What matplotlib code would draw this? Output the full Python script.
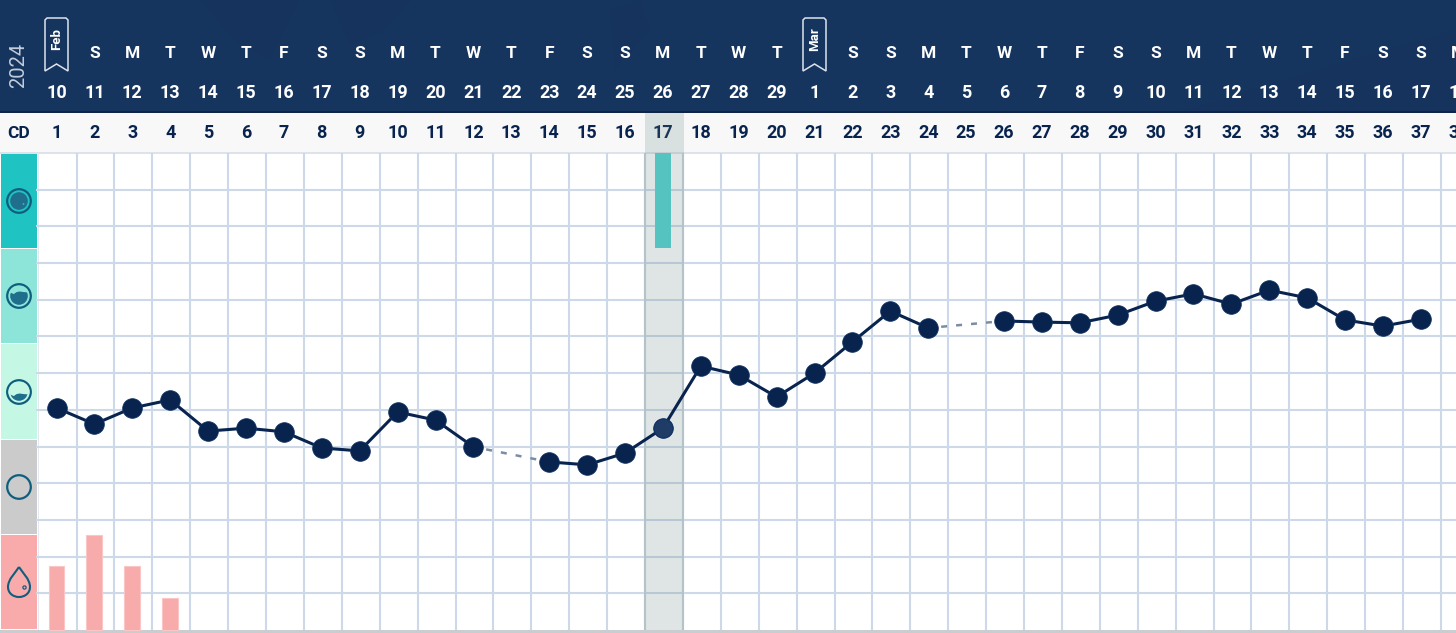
#!/usr/bin/env python3
"""Cycle chart: temperature line with fluid and bleeding rows, calendar header."""
import matplotlib
matplotlib.use("Agg")
import matplotlib.pyplot as plt
from matplotlib.patches import Circle, PathPatch, Polygon, Rectangle
from matplotlib.path import Path

plt.rcParams["font.family"] = ["Roboto", "DejaVu Sans"]

W, H = 1456, 633
COL = 37.9
ROW = 36.7
X0 = 56.5
GRID_BOTTOM = 630
EDGE = 0.53  # column boundaries sit a little right of the half day
NAVY = "#08244E"

# calendar, cycle day 1 to 38 (None where the ribbon takes the weekday slot)
weekdays = [None, "S", "M", "T", "W", "T", "F", "S", "S", "M", "T", "W", "T", "F", "S", "S", "M", "T", "W",
            "T", None, "S", "S", "M", "T", "W", "T", "F", "S", "S", "M", "T", "W", "T", "F", "S", "S", "M"]
dates = [10, 11, 12, 13, 14, 15, 16, 17, 18, 19, 20, 21, 22, 23, 24, 25, 26, 27, 28, 29,
         1, 2, 3, 4, 5, 6, 7, 8, 9, 10, 11, 12, 13, 14, 15, 16, 17, 18]
cycle_days = list(range(1, 39))
months = {1: "Feb", 21: "Mar"}

# temperature in grid rows above the bottom edge, gaps are missing readings
temp_days = [1, 2, 3, 4, 5, 6, 7, 8, 9, 10, 11, 12, 14, 15, 16, 17, 18, 19, 20,
             21, 22, 23, 24, 26, 27, 28, 29, 30, 31, 32, 33, 34, 35, 36, 37]
temps = [6.05, 5.61, 6.05, 6.27, 5.42, 5.50, 5.40, 4.96, 4.88, 5.94, 5.72, 4.99, 4.58, 4.50, 4.82, 5.50, 7.19,
         6.95, 6.35, 7.00, 7.85, 8.69, 8.23, 8.42, 8.39, 8.37, 8.58, 8.96, 9.16, 8.88, 9.26, 9.05, 8.45, 8.28, 8.47]
bleed_days = [1, 2, 3, 4]
bleed = [1.74, 2.59, 1.74, 0.87]
fluid_day = [17]
fluid = [2.6]
ovulation_day = 17
n_rows = 13

row_colors = ["#1FC4C2", "#8CE5D8", "#C5F7E5", "#CBCBCB", "#F9ABAB"]


def cd_x(day):
    return X0 + COL * (day - 1)


def draw_chrome(px):
    px.add_patch(Rectangle((0, 0), W, 112, color="#16355E", lw=0))
    # faint darker texture behind the header
    for pts in [[(200, 0), (300, 0), (270, 60), (235, 40)], [(330, 0), (410, 0), (385, 30), (350, 45)],
                [(610, 10), (640, 0), (650, 30), (615, 70)], [(1180, 112), (1300, 75), (1456, 30), (1456, 112)]]:
        px.add_patch(Polygon(pts, closed=True, color="#0F2C54", alpha=0.14, lw=0))
    px.add_patch(Rectangle((0, 111), W, 2, color="#0E2547", lw=0))
    px.add_patch(Rectangle((0, 113), W, 40, color="#F8F8F8", lw=0))
    px.add_patch(Rectangle((0, GRID_BOTTOM), W, 3, color="#C9CDD0", lw=0))
    px.add_patch(Rectangle((0, 152), W, 1.5, color="#DDE3EA", lw=0))

    px.text(19, 65, "2024", color="#C3CDDA", fontsize=14.5, rotation=90, ha="center", va="center")
    px.text(19, 133, "CD", color=NAVY, fontsize=12.5, weight="bold", ha="center", va="center")
    for day, wd, date in zip(cycle_days, weekdays, dates):
        x = cd_x(day)
        if wd:
            px.text(x, 53, wd, color="white", fontsize=12.5, weight="bold", ha="center", va="center")
        px.text(x, 93, str(date), color="white", fontsize=13, weight="bold", ha="center", va="center")
        px.text(x, 133.5, str(day), color=NAVY, fontsize=13, weight="bold", ha="center", va="center", zorder=4)
    for day, name in months.items():
        x = cd_x(day)
        px.add_patch(Polygon([(x - 11.5, 71), (x - 11.5, 20), (x - 9.5, 18), (x + 9.5, 18), (x + 11.5, 20),
                              (x + 11.5, 71), (x, 64)], closed=True, fill=False, ec="#DCE3EC", lw=1.1))
        px.text(x, 39, name, color="white", fontsize=9.5, weight="bold", rotation=90, ha="center", va="center")

    # row swatches down the left side
    for i, c in enumerate(row_colors):
        top = 154 + i * 95.2
        px.add_patch(Rectangle((1, top), 36, 94.2, color=c, lw=0))
    px.add_patch(Rectangle((37.5, 153), 1.5, GRID_BOTTOM - 153, color="#E4E8F0", lw=0))


def draw_icons(px):
    ink = "#0F5E7E"
    fill = "#1F6E8C"
    for cy, level, bg in [(201, 1.0, None), (296, 0.72, row_colors[1]), (392, 0.42, row_colors[2]),
                          (487, None, None)]:
        px.add_patch(Circle((19, cy), 11.8, fill=False, ec=ink, lw=1.6))
        if level is None:
            continue
        px.add_patch(Circle((19, cy), 8.8, color=fill, lw=0))
        if level < 1:
            # blank out the part above the water line
            top = cy - 10
            line = top + 20 * (1 - level)
            wave = Path([(8, top), (30, top), (30, line), (24, line + 2.5), (19, line - 3), (14, line + 2.5),
                         (8, line), (8, top)],
                        [Path.MOVETO, Path.LINETO, Path.LINETO, Path.CURVE4, Path.CURVE4, Path.CURVE4, Path.LINETO,
                         Path.CLOSEPOLY])
            over = PathPatch(wave, fc=bg, lw=0)
            px.add_patch(over)
            over.set_clip_path(Circle((19, cy), 10.5, transform=px.transData))
    px.add_patch(Circle((23.5, 204), 0.9, color=row_colors[0], lw=0))
    drop = Path([(19, 567), (16, 572), (8, 579), (8, 587), (8, 593), (13, 597), (19, 597), (25, 597), (30, 593),
                 (30, 587), (30, 579), (22, 572), (19, 567)],
                [Path.MOVETO] + [Path.CURVE4] * 12)
    px.add_patch(PathPatch(drop, fill=False, ec=ink, lw=1.5))
    px.add_patch(Circle((24.5, 587.5), 1.6, fill=False, ec=ink, lw=0.9))


def split_runs(days, values):
    runs, cur = [], ([days[0]], [values[0]])
    for d, v in zip(days[1:], values[1:]):
        if d - cur[0][-1] > 1:
            runs.append(cur)
            cur = ([], [])
        cur[0].append(d)
        cur[1].append(v)
    runs.append(cur)
    return runs


def main():
    fig = plt.figure(figsize=(W / 100, H / 100), dpi=100)
    px = fig.add_axes([0, 0, 1, 1], zorder=1)
    px.set_xlim(0, W)
    px.set_ylim(H, 0)
    px.axis("off")

    ax = fig.add_axes([0, 0, 1, 1], zorder=2)
    ax.patch.set_alpha(0)
    ax.set_xlim(1 - X0 / COL, 1 + (W - X0) / COL)
    ax.set_ylim((GRID_BOTTOM - H) / ROW, GRID_BOTTOM / ROW)
    ax.axis("off")

    draw_chrome(px)

    # grid
    grid_c = "#CDD9E8"
    ax.vlines([d + EDGE for d in range(1, 38)], 0, n_rows, color=grid_c, lw=1.5, zorder=1)
    ax.hlines(range(1, n_rows), 1 - EDGE, 39, color=grid_c, lw=1.5, zorder=1)

    # ovulation column, runs up through the CD band
    ax.axvspan(ovulation_day - 1 + EDGE, ovulation_day + EDGE + 0.02, ymin=(H - GRID_BOTTOM) / H,
               ymax=(H - 113) / H, color="#5F8080", alpha=0.2, lw=0, zorder=2)
    ax.vlines([ovulation_day - 1 + EDGE, ovulation_day + EDGE], 0, n_rows, color="#B4C3C8", lw=1.5, zorder=2)

    ax.bar(bleed_days, bleed, width=0.42, color="#F7ABAB", edgecolor="#FBC6C6", lw=0.8, zorder=3)
    ax.bar(fluid_day, [-f for f in fluid], bottom=n_rows, width=0.42, color="#55C3C0", lw=0, zorder=3)

    # dashed bridge over the missing days
    runs = split_runs(temp_days, temps)
    for a, b in zip(runs[:-1], runs[1:]):
        ax.plot([a[0][-1], b[0][0]], [a[1][-1], b[1][0]], color="#7C8CA5", lw=1.8, ls=(0.8, (2.4, 3.6)), zorder=4)
    for days, vals in runs:
        ax.plot(days, vals, color=NAVY, lw=2.2, marker="o", ms=14.2, mfc=NAVY, mec="#123566", mew=0.5, zorder=5)
    i = temp_days.index(ovulation_day)
    ax.plot([ovulation_day], [temps[i]], marker="o", ms=13.5, mfc="#1E3C66", mec="#123566", mew=0.5, zorder=6)

    draw_icons(px)

    fig.savefig("out.png", dpi=100)


if __name__ == "__main__":
    main()
